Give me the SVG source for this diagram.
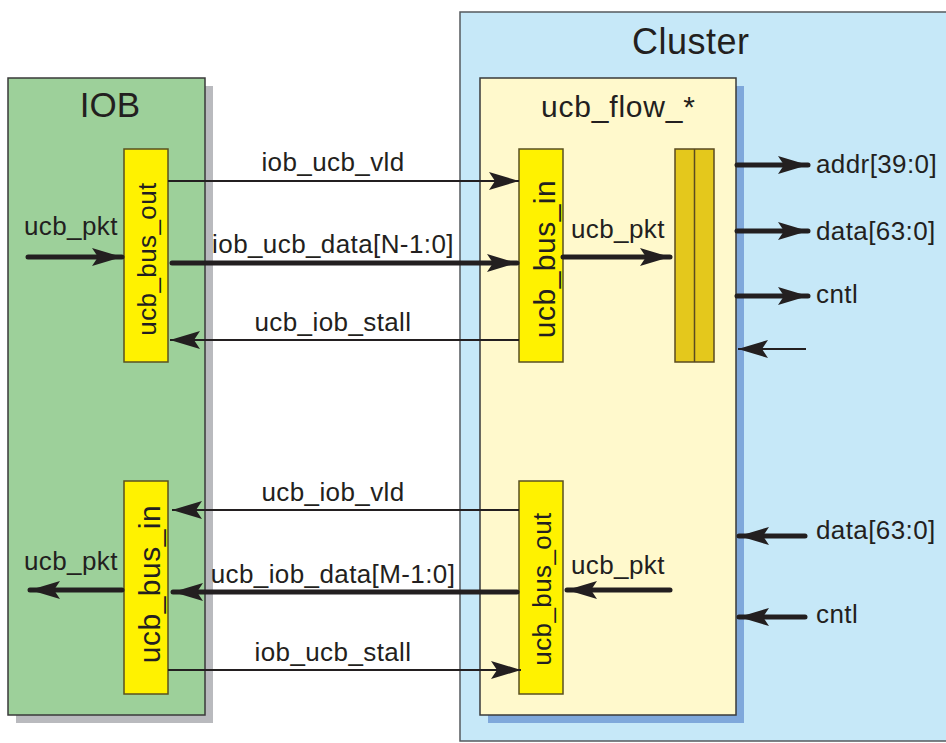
<svg xmlns="http://www.w3.org/2000/svg" width="946" height="743" viewBox="0 0 946 743">
<style>
text{font-family:"Liberation Sans",Arial,Helvetica,sans-serif;fill:#231f20}
.lbl{font-size:26px;letter-spacing:0.4px}
.big{font-size:30px;letter-spacing:0.5px}
.mid{text-anchor:middle}
.thin{stroke:#231f20;stroke-width:2;fill:none}
.thick{stroke:#231f20;stroke-width:5;fill:none;stroke-linecap:round}
.ybox{fill:#fff200;stroke:#5a5020;stroke-width:1.5}
</style>
<defs>
<marker id="ah" markerUnits="userSpaceOnUse" markerWidth="32" markerHeight="20" refX="30" refY="9" orient="auto">
<path d="M0,0 L30,9 L0,18 L6,9 Z" fill="#231f20"/>
</marker>
</defs>
<rect width="946" height="743" fill="#ffffff"/>

<g id="iob">
<rect x="16" y="86" width="197" height="637" fill="#b9babe"/>
<rect x="8" y="78" width="197" height="637" fill="#9dd09a" stroke="#3a3a3a" stroke-width="1.5"/>
<text x="110" y="117" class="mid" font-size="35">IOB</text>
</g>

<g id="cluster">
<rect x="460" y="12" width="490" height="729" fill="#c6e8f8" stroke="#555a5e" stroke-width="1.5"/>
<text x="632" y="54" font-size="36" letter-spacing="0.5">Cluster</text>
</g>

<g id="ucb_flow">
<rect x="488" y="86" width="256" height="637" fill="#7fa8db"/>
<rect x="480" y="78" width="256" height="637" fill="#fff9cc" stroke="#3a3a3a" stroke-width="1.5"/>
<text x="541" y="117" font-size="30" letter-spacing="0.8">ucb_flow_*</text>
</g>

<g id="iob_ucb_bus_out">
<rect class="ybox" x="124" y="149" width="44" height="213"/>
<text class="lbl mid" transform="translate(156,259) rotate(-90)">ucb_bus_out</text>
</g>

<g id="iob_ucb_bus_in">
<rect class="ybox" x="124" y="481" width="44" height="213"/>
<text class="big mid" transform="translate(160,584) rotate(-90)">ucb_bus_in</text>
</g>

<g id="cl_ucb_bus_in">
<rect class="ybox" x="519" y="149" width="44" height="213"/>
<text class="big mid" transform="translate(555,259) rotate(-90)">ucb_bus_in</text>
</g>

<g id="cl_ucb_bus_out">
<rect class="ybox" x="519" y="481" width="44" height="213"/>
<text class="lbl mid" transform="translate(551,589) rotate(-90)">ucb_bus_out</text>
</g>

<g id="register">
<rect x="675" y="149" width="39" height="213" fill="#e4c81c" stroke="#5a4a20" stroke-width="1.5"/>
<line x1="694.5" y1="149" x2="694.5" y2="362" stroke="#5a4a20" stroke-width="1.5"/>
</g>

<g id="connectors">
<line class="thin" x1="168" y1="181" x2="519" y2="181" marker-end="url(#ah)"/>
<line class="thick" x1="172" y1="263" x2="517" y2="263" marker-end="url(#ah)"/>
<line class="thin" x1="519" y1="340" x2="170" y2="340" marker-end="url(#ah)"/>
<line class="thick" x1="28" y1="257" x2="122" y2="257" marker-end="url(#ah)"/>
<line class="thick" x1="563" y1="257" x2="670" y2="257" marker-end="url(#ah)"/>

<line class="thick" x1="737" y1="165" x2="808" y2="165" marker-end="url(#ah)"/>
<line class="thick" x1="737" y1="231" x2="808" y2="231" marker-end="url(#ah)"/>
<line class="thick" x1="737" y1="296" x2="808" y2="296" marker-end="url(#ah)"/>
<line class="thin" x1="806" y1="349" x2="738" y2="349" marker-end="url(#ah)"/>

<line class="thin" x1="519" y1="510" x2="172" y2="510" marker-end="url(#ah)"/>
<line class="thick" x1="517" y1="592" x2="173" y2="592" marker-end="url(#ah)"/>
<line class="thin" x1="168" y1="670" x2="521" y2="670" marker-end="url(#ah)"/>
<line class="thick" x1="122" y1="590" x2="30" y2="590" marker-end="url(#ah)"/>
<line class="thick" x1="670" y1="590" x2="567" y2="590" marker-end="url(#ah)"/>

<line class="thick" x1="805" y1="536" x2="739" y2="536" marker-end="url(#ah)"/>
<line class="thick" x1="805" y1="617" x2="739" y2="617" marker-end="url(#ah)"/>

<text class="lbl mid" x="333" y="171">iob_ucb_vld</text>
<text class="lbl mid" x="333" y="253">iob_ucb_data[N-1:0]</text>
<text class="lbl mid" x="333" y="331">ucb_iob_stall</text>
<text class="lbl" x="24" y="235">ucb_pkt</text>
<text class="lbl" x="571" y="238">ucb_pkt</text>
<text class="lbl" x="816" y="173">addr[39:0]</text>
<text class="lbl" x="816" y="240">data[63:0]</text>
<text class="lbl" x="816" y="303">cntl</text>

<text class="lbl mid" x="333" y="501">ucb_iob_vld</text>
<text class="lbl mid" x="333" y="583">ucb_iob_data[M-1:0]</text>
<text class="lbl mid" x="333" y="661">iob_ucb_stall</text>
<text class="lbl" x="24" y="570">ucb_pkt</text>
<text class="lbl" x="571" y="574">ucb_pkt</text>
<text class="lbl" x="816" y="539">data[63:0]</text>
<text class="lbl" x="816" y="623">cntl</text>
</g>
</svg>
